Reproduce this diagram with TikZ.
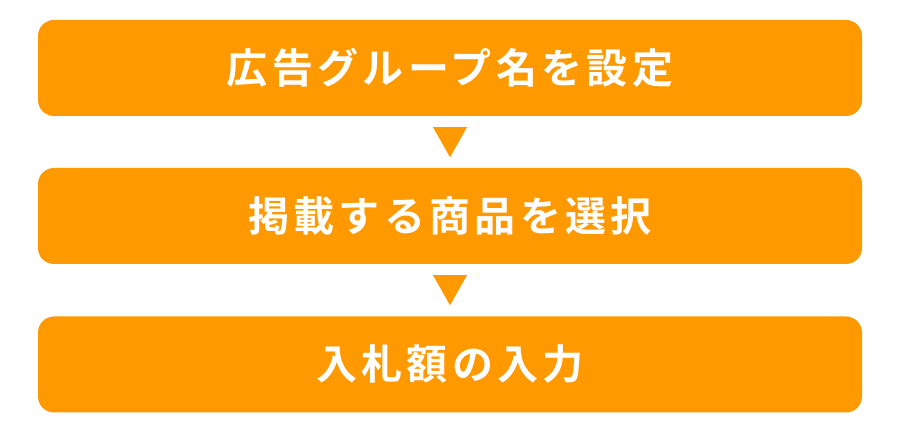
\documentclass[tikz,border=0pt]{standalone}
\usepackage{fontspec}
\newfontfamily\jpfont[LetterSpace=10.5]{Noto Sans CJK JP Bold}
\definecolor{boxorange}{HTML}{FF9900}
\begin{document}
\begin{tikzpicture}[x=1pt,y=1pt,
  stepbox/.style={fill=boxorange, rounded corners=16pt, minimum width=824pt, minimum height=96pt, inner sep=0pt, text=white, font=\jpfont\fontsize{41}{41}\selectfont, anchor=center},
  tri/.style={fill=boxorange}]
\useasboundingbox (0,0) rectangle (901,433);
\fill[white] (0,0) rectangle (901,433);
\node[stepbox] (b1) at (450,365) {広告グループ名を設定};
\node[stepbox] (b2) at (450,217) {掲載する商品を選択};
\node[stepbox] (b3) at (450,68.5) {入札額の入力};
\fill[tri] ([xshift=-17pt,yshift=-11pt]b1.south) -- ([xshift=17pt,yshift=-11pt]b1.south) -- ([yshift=-41pt]b1.south) -- cycle;
\fill[tri] ([xshift=-17pt,yshift=-11pt]b2.south) -- ([xshift=17pt,yshift=-11pt]b2.south) -- ([yshift=-41pt]b2.south) -- cycle;
\end{tikzpicture}
\end{document}
